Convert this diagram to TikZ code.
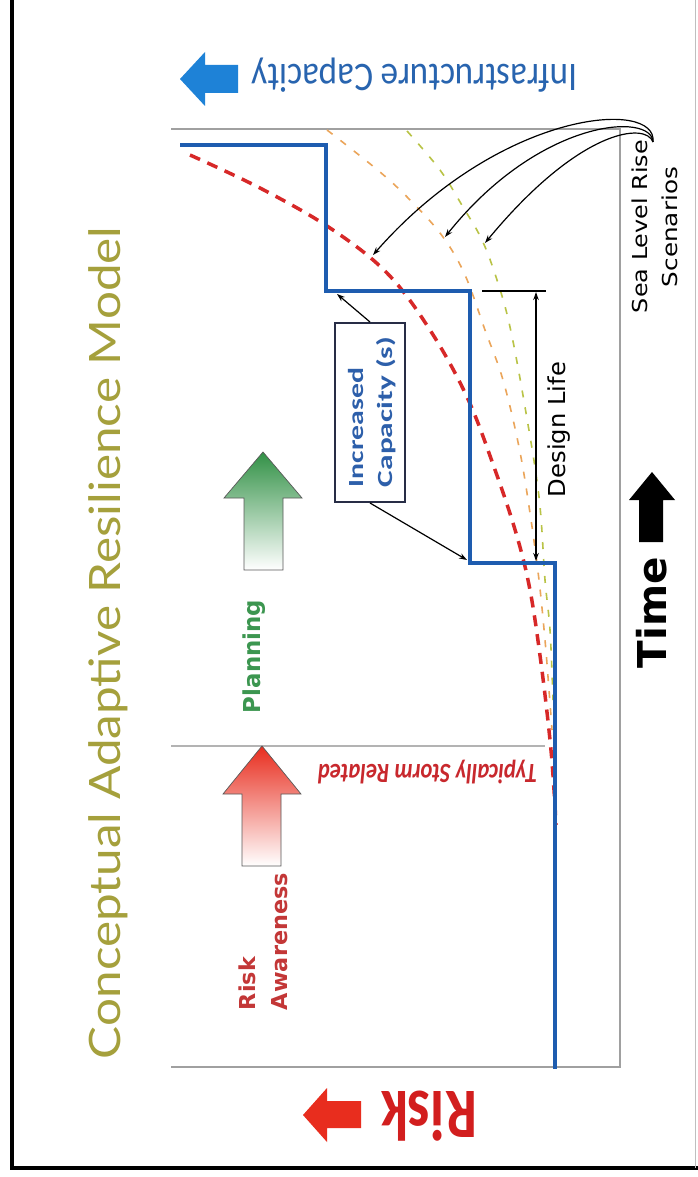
\documentclass[tikz,border=0pt]{standalone}
\usepackage{fontspec}
\usepackage{graphicx}
\usetikzlibrary{arrows.meta}
\newfontfamily\dvs{DejaVu Sans}
\newfontfamily\carl{Carlito}
\newfontfamily\lato{Lato}
\newlength\fitcap
\newcommand\fitbox[3]{\settoheight{\fitcap}{H}\resizebox{#1}{#2}{\raisebox{0pt}[\fitcap][0pt]{#3}}}
\definecolor{stepblue}{RGB}{30,92,175}
\definecolor{titlecol}{RGB}{165,160,60}
\definecolor{infcol}{RGB}{40,100,175}
\definecolor{arrblue}{RGB}{30,130,215}
\definecolor{riskred}{RGB}{210,30,30}
\definecolor{arrred}{RGB}{232,45,30}
\definecolor{stormred}{RGB}{200,40,45}
\definecolor{awred}{RGB}{195,55,55}
\definecolor{plangreen}{RGB}{60,150,80}
\definecolor{arrgreen}{RGB}{50,145,70}
\definecolor{dashred}{RGB}{215,40,40}
\definecolor{dashorange}{RGB}{235,165,90}
\definecolor{dashgreen}{RGB}{185,195,70}
\definecolor{axisgray}{RGB}{160,160,160}
\definecolor{boxcol}{RGB}{40,45,70}
\definecolor{boxtext}{RGB}{45,95,170}
\begin{document}
\begin{tikzpicture}[x=1pt,y=-1pt,
  txt/.style={inner sep=0pt, outer sep=0pt},
  conn/.style={line width=1.2pt, -{Stealth[length=8pt,width=5.5pt]}},
  gray axis/.style={draw=axisgray, line width=1.5pt},
  blockarrow/.style={draw=black!65, line width=0.7pt}]
\useasboundingbox (0,0) rectangle (698,1177);
\fill[white] (0,0) rectangle (698,1177);
% frame
\draw[line width=3.2pt] (12,0) -- (12,1168) -- (698,1168);
\draw[black!25, line width=1pt] (695,0) -- (695,1168);
% axes
\draw[gray axis] (171,129) -- (620,129) -- (620,1067) -- (171,1067);
\draw[draw=axisgray!80, line width=1.3pt] (171,746) -- (545,746);
% dashed scenario curves
\draw[dashgreen, line width=1.6pt, dash pattern=on 7pt off 10pt]
  plot[smooth, tension=0.6] coordinates {(407,131) (440,170) (463,207) (482,240) (497,280) (510,327) (525,407) (539,497) (545,580) (550,630) (553,700)};
\draw[dashorange, line width=1.6pt, dash pattern=on 7pt off 10pt]
  plot[smooth, tension=0.6] coordinates {(327,130) (380,172) (413,203) (443,237) (465,275) (485,330) (503,380) (519,447) (530,513) (539,580) (545,640) (549,690) (552,730)};
\draw[dashred, line width=3.5pt, dash pattern=on 11pt off 8pt]
  plot[smooth, tension=0.6] coordinates {(190,155) (260,188) (330,228) (387,273) (430,330) (467,397) (494,467) (516,533) (530,590) (541,663) (550,740) (554,790) (556,825)};
% blue capacity step line
\draw[stepblue, line width=4.2pt, line join=miter]
  (180,145) -- (326,145) -- (326,291) -- (470,291) -- (470,563) -- (555,563) -- (555,1069);
% design life
\coordinate (dlt1) at (482,291);
\coordinate (dlt2) at (546,291);
\coordinate (dl1) at (536,292);
\coordinate (dl2) at (536,561);
\draw[line width=1.3pt] (dlt1) -- (dlt2);
\draw[line width=1.3pt, {Stealth[length=8pt,width=5.5pt]}-{Stealth[length=8pt,width=5.5pt]}] (dl1) -- (dl2);
\node[txt, rotate=90, anchor=base west, font=\dvs] (design) at (565,497) {\fitbox{135pt}{17pt}{Design Life}};
% increased capacity box
\node[draw=boxcol, line width=2pt, fill=white, minimum width=179pt, minimum height=70pt, rotate=90, inner sep=0pt] (capbox) at (370,412.5) {};
\node[txt, rotate=90, anchor=base west, font=\carl\bfseries, text=boxtext] (inc1) at (363,487) {\fitbox{119pt}{14pt}{Increased}};
\node[txt, rotate=90, anchor=base west, font=\carl\bfseries, text=boxtext] (inc2) at (392,487) {\fitbox{150pt}{14pt}{Capacity (s)}};
\coordinate (c1) at (337,294);
\coordinate (c2) at (467,560);
\draw[conn] (capbox.east) -- (c1);
\draw[conn] (capbox.west) -- (c2);
% sea level rise callouts
\coordinate (slr) at (653,142);
\coordinate (a1) at (373,255);
\coordinate (a2) at (445,237);
\coordinate (a3) at (485,243);
\draw[conn] (slr) .. controls (658,98) and (500,110) .. (a1);
\draw[conn] (slr) .. controls (652,112) and (540,118) .. (a2);
\draw[conn] (slr) .. controls (646,122) and (580,128) .. (a3);
\node[txt, rotate=90, anchor=base, font=\dvs] (slr1) at (647,226.5) {\fitbox{173pt}{15pt}{Sea Level Rise}};
\node[txt, rotate=90, anchor=base, font=\dvs] (slr2) at (677,227) {\fitbox{120pt}{15pt}{Scenarios}};
% block arrows
\shade[blockarrow, top color=arrgreen, middle color=arrgreen!55!white, bottom color=white]
  (244,570) -- (244,498) -- (224,498) -- (263,452) -- (302,498) -- (283,498) -- (283,570) -- cycle;
\shade[blockarrow, top color=arrred, middle color=arrred!60!white, bottom color=white]
  (242,866) -- (242,794) -- (223,794) -- (262,746) -- (301,794) -- (281,794) -- (281,866) -- cycle;
\fill[arrblue] (238,65) -- (205,65) -- (205,52) -- (180,79) -- (205,106) -- (205,93) -- (238,93) -- cycle;
\fill[arrred] (361,1101) -- (327,1101) -- (327,1088) -- (303,1115) -- (327,1142) -- (327,1128) -- (361,1128) -- cycle;
\fill[black] (639,542) -- (639,500) -- (629,500) -- (652,472) -- (675,500) -- (663,500) -- (663,542) -- cycle;
% labels
\node[txt, rotate=90, anchor=base west, font=\lato, text=titlecol] (title) at (120,1059) {\fitbox{832pt}{31pt}{Conceptual Adaptive Resilience Model}};
\node[txt, rotate=180, anchor=base west, font=\carl, text=infcol] (infra) at (577,65) {\fitbox{325pt}{26pt}{Infrastructure Capacity}};
\node[txt, rotate=180, anchor=base west, font=\carl\bfseries, text=riskred] (risk) at (477,1091) {\fitbox{96pt}{46pt}{Risk}};
\node[txt, rotate=180, anchor=base west, font=\carl\bfseries\itshape, text=stormred] (storm) at (537,764) {\fitbox{219pt}{18pt}{Typically Storm Related}};
\node[txt, rotate=90, anchor=base west, font=\dvs\bfseries, text=awred] (aw1) at (255,1010) {\fitbox{53pt}{16pt}{Risk}};
\node[txt, rotate=90, anchor=base west, font=\dvs\bfseries, text=awred] (aw2) at (287,1010) {\fitbox{137pt}{16pt}{Awareness}};
\node[txt, rotate=90, anchor=base west, font=\dvs\bfseries, text=plangreen] (plan) at (260,713) {\fitbox{113pt}{17pt}{Planning}};
\node[txt, rotate=90, anchor=base west, font=\dvs\bfseries] (time) at (666,668) {\fitbox{111pt}{29pt}{Time}};
\end{tikzpicture}
\end{document}
